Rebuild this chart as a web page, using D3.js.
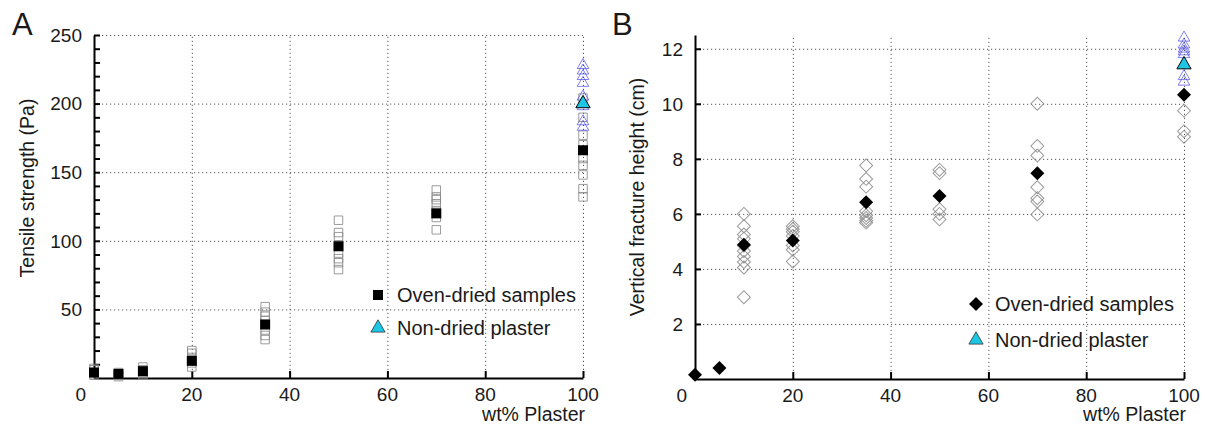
<!DOCTYPE html>
<html>
<head>
<meta charset="utf-8">
<script src="https://cdn.jsdelivr.net/npm/d3@7"></script>
<style>
  body { margin: 0; background: #fff; }
  svg text { font-family: "Liberation Sans", Arial, sans-serif; fill: #1a1a1a; }
  .grid line { stroke: #555; stroke-dasharray: 1.2,2.8; stroke-width: 1; }
  .grid path { display: none; }
  .ax path, .ax line { stroke: #000; stroke-width: 2; }
</style>
</head>
<body>
<div id="chart"></div>
<script>
// wt% plaster for each sample group
const plaster = [0, 5, 10, 20, 35, 50, 70, 100];

// panel A: tensile strength (Pa)
const tensileMean = [4, 3, 5, 12.5, 39, 96, 120, 166];
const tensileSamples = [
  [2, 3, 4, 6, 7],
  [1, 2, 3, 4],
  [2, 3, 4, 6, 8],
  [8, 11, 13, 15, 18, 20],
  [28, 31, 35, 39, 42, 45, 48, 52],
  [79, 84, 87, 91, 97, 103, 106, 115],
  [108, 117, 122, 127, 130, 132, 137],
  [132, 138, 148, 155, 160, 170, 177, 190, 204]
];
const tensileWetMean = 200;
const tensileWet = [228, 224, 220, 215, 205, 198, 187, 183];

// panel B: vertical fracture height (cm)
const heightMean = [0.15, 0.4, 4.88, 5.03, 6.42, 6.65, 7.48, 10.33];
const heightSamples = [
  [],
  [],
  [6.0, 5.55, 5.25, 5.1, 4.85, 4.65, 4.45, 4.25, 4.05, 2.97],
  [5.55, 5.45, 5.35, 5.2, 4.85, 4.7, 4.27],
  [7.76, 7.27, 6.99, 6.1, 5.95, 5.85, 5.75, 5.68],
  [7.6, 7.48, 6.17, 6.0, 5.8],
  [10.0, 8.47, 8.12, 6.97, 6.57, 6.45, 5.98],
  [9.75, 9.0, 8.8]
];
const heightWetMean = 11.42;
const heightWet = [12.4, 12.15, 12.0, 11.9, 11.8, 11.0, 10.8];

const xTicks = [20, 40, 60, 80, 100];
const yTicksA = [50, 100, 150, 200, 250];
const yMinorA = d3.range(10, 251, 10);
const yTicksB = [2, 4, 6, 8, 10, 12];

const legendLabels = ["Oven-dried samples", "Non-dried plaster"];

const svg = d3.select("#chart").append("svg")
  .attr("width", 1205)
  .attr("height", 425);

const sq = d3.symbol().type(d3.symbolSquare);
const tri = d3.symbol().type(d3.symbolTriangle);

function panel(o) {
  const x = d3.scaleLinear().domain([0, 100]).range(o.xr);
  const y = d3.scaleLinear().domain(o.yd).range(o.yr);
  const g = svg.append("g");
  const x0 = o.xr[0], x1 = o.xr[1], y0 = o.yr[0], y1 = o.yr[1];

  // dotted grid
  g.append("g").attr("class", "grid")
    .attr("transform", `translate(${x0},0)`)
    .call(d3.axisRight(y).tickValues(o.yGrid).tickSize(x1 - x0).tickFormat(""));
  g.append("g").attr("class", "grid")
    .attr("transform", `translate(0,${y0})`)
    .call(d3.axisTop(x).tickValues(xTicks).tickSize(y0 - y1).tickFormat(""));

  // axes with inward ticks
  g.append("g").attr("class", "ax")
    .attr("transform", `translate(${x0},0)`)
    .call(d3.axisRight(y).tickValues(o.yMinor).tickSize(6).tickSizeOuter(0).tickFormat(""));
  const xa = g.append("g").attr("class", "ax")
    .attr("transform", `translate(0,${y0})`)
    .call(d3.axisTop(x).tickValues(xTicks).tickSize(7).tickSizeOuter(0).tickFormat(""));
  xa.select("path").attr("stroke-width", 2.5);

  // tick labels
  g.append("g").selectAll("text").data(o.yLabels).join("text")
    .attr("x", x0 - 12).attr("y", d => y(d)).attr("dy", "0.36em")
    .attr("text-anchor", "end").attr("font-size", 19)
    .text(d => d);
  g.append("g").selectAll("text").data(xTicks).join("text")
    .attr("x", d => x(d)).attr("y", y0 + 23)
    .attr("text-anchor", "middle").attr("font-size", 19)
    .text(d => d);
  g.append("text").attr("x", x0 - 8).attr("y", y0 + 23)
    .attr("text-anchor", "end").attr("font-size", 19).text("0");

  // titles
  g.append("text").attr("x", x1 + 2).attr("y", 421)
    .attr("text-anchor", "end").attr("font-size", 19.5).text("wt% Plaster");
  g.append("text")
    .attr("transform", `translate(${o.yTitleX},${o.yTitleY}) rotate(-90)`)
    .attr("text-anchor", "middle").attr("font-size", 19.5).text(o.yTitle);
  g.append("text").attr("x", o.letterX).attr("y", 35)
    .attr("font-size", 31).text(o.letter);

  // samples
  const pts = [];
  plaster.forEach((p, i) => o.samples[i].forEach(v => pts.push([p, v])));
  const pg = g.append("g");
  pg.selectAll(".s").data(pts).join("path")
    .attr("transform", d => `translate(${x(d[0])},${y(d[1])})${o.rot}`)
    .attr("d", o.sampleShape)
    .attr("fill", "none").attr("stroke", "#8a8a8a").attr("stroke-opacity", 0.85)
    .attr("stroke-width", 1);
  pg.selectAll(".w").data(o.wet).join("path")
    .attr("transform", d => `translate(${x(100)},${y(d)})`)
    .attr("d", tri.size(58)())
    .attr("fill", "none").attr("stroke", "#4848e8").attr("stroke-opacity", 0.7)
    .attr("stroke-width", 1);
  pg.selectAll(".m").data(plaster).join("path")
    .attr("transform", (d, i) => `translate(${x(d)},${y(o.means[i])})${o.rot}`)
    .attr("d", o.meanShape)
    .attr("fill", "#000");
  pg.append("path")
    .attr("transform", `translate(${x(100)},${y(o.wetMean)})`)
    .attr("d", tri.size(88)())
    .attr("fill", "#1ec6e6").attr("stroke", "#000").attr("stroke-width", 1);

  // legend
  const lg = g.append("g");
  lg.append("path")
    .attr("transform", `translate(${o.legX},${o.legY[0]})${o.rot}`)
    .attr("d", o.meanShape).attr("fill", "#000");
  lg.append("path")
    .attr("transform", `translate(${o.legX},${o.legY[1]})`)
    .attr("d", tri.size(88)())
    .attr("fill", "#1ec6e6").attr("stroke", "#333").attr("stroke-width", 0.8);
  lg.selectAll("text").data(legendLabels).join("text")
    .attr("x", o.legX + 19).attr("y", (d, i) => o.legY[i]).attr("dy", "0.36em")
    .attr("font-size", 20).text(d => d);
}

panel({
  xr: [94, 583], yd: [0, 250], yr: [378, 35],
  yGrid: yTicksA, yMinor: yMinorA, yLabels: yTicksA,
  yTitle: "Tensile strength (Pa)", yTitleX: 34, yTitleY: 188,
  letter: "A", letterX: 12,
  samples: tensileSamples, means: tensileMean, wet: tensileWet, wetMean: tensileWetMean,
  sampleShape: sq.size(72)(), meanShape: sq.size(100)(), rot: "",
  legX: 378, legY: [295, 328]
});

panel({
  xr: [695, 1184], yd: [0, 12.5], yr: [379, 35],
  yGrid: yTicksB, yMinor: yTicksB, yLabels: yTicksB,
  yTitle: "Vertical fracture height (cm)", yTitleX: 644, yTitleY: 197,
  letter: "B", letterX: 612,
  samples: heightSamples, means: heightMean, wet: heightWet, wetMean: heightWetMean,
  sampleShape: sq.size(84)(), meanShape: sq.size(98)(), rot: " rotate(45)",
  legX: 976, legY: [304, 340]
});
</script>
</body>
</html>
